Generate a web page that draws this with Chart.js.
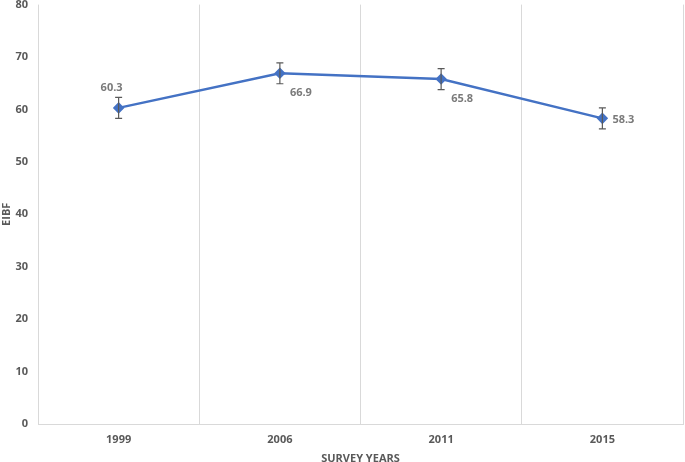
<!DOCTYPE html>
<html>
<head>
<meta charset="utf-8">
<script src="https://cdn.jsdelivr.net/npm/chart.js@4"></script>
<style>
  html, body { margin:0; padding:0; background:#fff; }
  #wrap { width:685px; height:462px; overflow:hidden; }
  #chart { display:block; margin-top:-12px; }
</style>
</head>
<body>
<div id="wrap"><canvas id="chart" width="685" height="474"></canvas></div>
<script>
// survey years and EIBF values
const years = ['1999', '2006', '2011', '2015'];
const eibf = [60.3, 66.9, 65.8, 58.3];
const eibfErr = [2.0, 2.0, 2.0, 2.0];
// where each value label sits relative to its point
const labelPos = ['above', 'belowRight', 'belowRight', 'right'];

const grey = '#595959';

// draws the +/- error whiskers through the y scale
const errorBars = {
  id: 'errorBars',
  afterDatasetsDraw(chart){
    const ctx = chart.ctx;
    const meta = chart.getDatasetMeta(0);
    const y = chart.scales.y;
    ctx.save();
    ctx.strokeStyle = grey;
    ctx.lineWidth = 1.2;
    meta.data.forEach((pt, i) => {
      const top = y.getPixelForValue(eibf[i] + eibfErr[i]);
      const bot = y.getPixelForValue(eibf[i] - eibfErr[i]);
      ctx.beginPath();
      ctx.moveTo(pt.x, top); ctx.lineTo(pt.x, bot);
      ctx.moveTo(pt.x - 3.5, top); ctx.lineTo(pt.x + 3.5, top);
      ctx.moveTo(pt.x - 3.5, bot); ctx.lineTo(pt.x + 3.5, bot);
      ctx.stroke();
    });
    ctx.restore();
  }
};

// value labels next to the points
const valueLabels = {
  id: 'valueLabels',
  afterDatasetsDraw(chart){
    const ctx = chart.ctx;
    const meta = chart.getDatasetMeta(0);
    ctx.save();
    ctx.font = 'bold 11px "Open Sans", sans-serif';
    ctx.fillStyle = '#7a7a7a';
    ctx.textBaseline = 'middle';
    meta.data.forEach((pt, i) => {
      const txt = eibf[i].toFixed(1);
      const pos = labelPos[i];
      if (pos === 'above'){
        ctx.textAlign = 'center';
        ctx.fillText(txt, pt.x - 7, pt.y - 20);
      } else if (pos === 'belowRight'){
        ctx.textAlign = 'left';
        ctx.fillText(txt, pt.x + 10, pt.y + 20);
      } else {
        ctx.textAlign = 'left';
        ctx.fillText(txt, pt.x + 10, pt.y + 1);
      }
    });
    ctx.restore();
  }
};

new Chart(document.getElementById('chart'), {
  type: 'line',
  data: {
    labels: years,
    datasets: [{
      label: 'EIBF',
      data: eibf,
      borderColor: '#4472C4',
      backgroundColor: '#4472C4',
      borderWidth: 2.5,
      pointStyle: 'rectRot',
      pointRadius: 4,
      pointBackgroundColor: '#4472C4',
      pointBorderColor: '#4472C4',
      tension: 0
    }]
  },
  options: {
    responsive: false,
    animation: false,
    layout: { autoPadding: false, padding: { top: 4, right: 2, left: 0, bottom: 0 } },
    plugins: { legend: { display: false }, tooltip: { enabled: false } },
    scales: {
      x: {
        offset: true,
        afterFit(scale){ scale.height = 38; },
        grid: { offset: true, color: '#d9d9d9', lineWidth: 1, drawTicks: false },
        border: { color: '#d9d9d9' },
        ticks: { color: grey, padding: 9, font: { family: '"Open Sans", sans-serif', size: 11, weight: 'bold' } },
        title: { display: true, text: 'SURVEY YEARS', color: grey, padding: { top: 0, bottom: -3 },
                 font: { family: '"Open Sans", sans-serif', size: 11, weight: 'bold' } }
      },
      y: {
        min: 0, max: 80,
        afterFit(scale){ scale.width = 38; },
        grid: { display: false, drawTicks: false },
        border: { display: false },
        ticks: { stepSize: 10, color: grey, padding: 10, font: { family: '"Open Sans", sans-serif', size: 11, weight: 'bold' } },
        title: { display: true, text: 'EIBF', color: grey, padding: { top: 0, bottom: 2 },
                 font: { family: '"Open Sans", sans-serif', size: 11, weight: 'bold' } }
      }
    }
  },
  plugins: [errorBars, valueLabels]
});
</script>
</body>
</html>
